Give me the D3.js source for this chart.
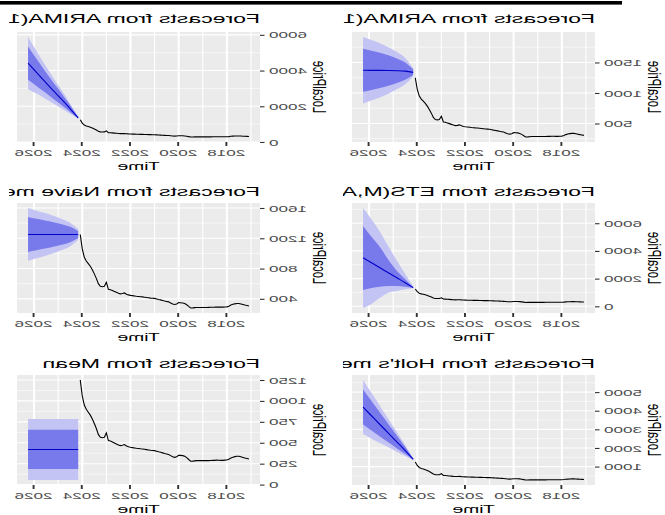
<!DOCTYPE html>
<html>
<head>
<meta charset="utf-8">
<script src="https://cdn.jsdelivr.net/npm/d3@7"></script>
<style>
  html, body { margin: 0; padding: 0; background: #fff; }
  svg { display: block; font-family: "Liberation Sans", Arial, Helvetica, sans-serif; }
</style>
</head>
<body>
<svg id="chart" width="665" height="515"></svg>
<script>
// Monthly local price series, Feb 2017 – Feb 2024
const seriesStart = 2017 + 1 / 12;
const localPrice = [
  306, 312, 318, 325, 332, 338, 338, 334, 328, 318, 302,
  294, 292, 290, 290, 291, 292, 290, 289, 288, 287, 286, 286,
  286, 286, 286, 286, 284, 281, 279, 300, 322, 338, 346, 349,
  350, 333, 326, 332, 346, 360, 366, 372, 379, 386, 392, 399,
  406, 408, 410, 414, 418, 422, 426, 428, 431, 434, 438, 442,
  446, 452, 462, 478, 470, 466, 474, 486, 498, 510, 520, 526,
  618, 565, 560, 565, 600, 670, 730, 785, 830, 865, 900, 950,
  1060, 1250
];

// Forecast horizon sample times
const forecastTimes = [2024.17, 2024.5, 2024.85, 2025.2, 2025.55, 2025.9, 2026.25];

// ARIMA without drift
const arimaMean = [1338, 1358, 1365, 1368, 1370, 1371, 1372];
const arimaLo80 = [1293, 1218, 1165, 1118, 1080, 1049, 1020];
const arimaHi80 = [1383, 1498, 1565, 1618, 1660, 1693, 1724];
const arimaLo95 = [1270, 1143, 1060, 988, 925, 876, 827];
const arimaHi95 = [1406, 1573, 1670, 1748, 1815, 1866, 1917];

// ARIMA with drift
const driftMean = [1356, 1860, 2380, 2870, 3380, 3900, 4420];
const driftLo80 = [1326, 1680, 2060, 2410, 2780, 3140, 3490];
const driftHi80 = [1386, 2040, 2700, 3330, 3980, 4660, 5350];
const driftLo95 = [1311, 1580, 1880, 2150, 2440, 2710, 2960];
const driftHi95 = [1401, 2140, 2880, 3590, 4320, 5090, 5880];

// ETS(M,A,N)
const etsMean = [1347, 1706, 2065, 2424, 2783, 3143, 3502];
const etsLo80 = [1320, 1420, 1470, 1470, 1420, 1320, 1180];
const etsHi80 = [1390, 1960, 2570, 3355, 4285, 5020, 5800];
const etsLo95 = [1300, 1225, 1100, 980, 612, 171, -122];
const etsHi95 = [1420, 2330, 3300, 4330, 5390, 6290, 7100];

// Naive method
const naiveMean = [1250, 1250, 1250, 1250, 1250, 1250, 1250];
const naiveLo80 = [1205, 1149, 1115, 1087, 1064, 1043, 1020];
const naiveHi80 = [1295, 1351, 1385, 1413, 1436, 1457, 1480];
const naiveLo95 = [1181, 1096, 1044, 1002, 967, 935, 900];
const naiveHi95 = [1319, 1404, 1456, 1498, 1533, 1565, 1600];

// Holt's method
const holtMean = [1391, 1860, 2330, 2800, 3260, 3730, 4200];
const holtLo80 = [1361, 1670, 1990, 2310, 2620, 2940, 3265];
const holtHi80 = [1421, 2050, 2670, 3290, 3900, 4520, 5135];
const holtLo95 = [1346, 1570, 1800, 2040, 2260, 2500, 2750];
const holtHi95 = [1436, 2150, 2860, 3560, 4260, 4960, 5650];

// Mean method
const meanMean = [420, 420, 420, 420, 420, 420, 420];
const meanLo80 = [185, 185, 185, 185, 185, 185, 185];
const meanHi80 = [655, 655, 655, 655, 655, 655, 655];
const meanLo95 = [55, 55, 55, 55, 55, 55, 55];
const meanHi95 = [785, 785, 785, 785, 785, 785, 785];

// Titles and tick labels
const panelTitles = [
  "Forecasts from ARIMA(1,1,0)",
  "Forecasts from ARIMA(1,1,0) with drift",
  "Forecasts from ETS(M,A,N)",
  "Forecasts from Naive method",
  "Forecasts from Holt's method",
  "Forecasts from Mean"
];
const xTicks = [2018, 2020, 2022, 2024, 2026];
const arimaTicks = [500, 1000, 1500];
const driftTicks = [0, 2000, 4000, 6000];
const etsTicks = [0, 2000, 4000, 6000];
const naiveTicks = [400, 800, 1200, 1600];
const holtTicks = [1000, 2000, 3000, 4000, 5000];
const meanTicks = [0, 250, 500, 750, 1000, 1250];
const xLabel = "Time";
const yLabel = "LocalPrice";

// ---- layout ----
const W = 665, H = 515;
const TX = 1.8;                 // horizontal stretch of lettering
const TY_TITLE = 1.55;          // stretch across the rotated axis title
const colX = [70, 405];         // panel left edges
const colClip = [[0, 322], [325, 656]];
const rowY = [32, 203, 375];    // panel top edges
const titleBase = [22.7, 196, 368];
const PW = 243, PH = 110;
const FONT = '"Liberation Sans", Arial, Helvetica, sans-serif';

const bandColors = { hi95: "#c3c4f4", hi80: "#7879eb" };

const panels = [
  { title: panelTitles[0], col: 0, row: 0, yTicks: arimaTicks, mean: arimaMean, lo80: arimaLo80, hi80: arimaHi80, lo95: arimaLo95, hi95: arimaHi95 },
  { title: panelTitles[1], col: 1, row: 0, yTicks: driftTicks, mean: driftMean, lo80: driftLo80, hi80: driftHi80, lo95: driftLo95, hi95: driftHi95 },
  { title: panelTitles[2], col: 0, row: 1, yTicks: etsTicks, mean: etsMean, lo80: etsLo80, hi80: etsHi80, lo95: etsLo95, hi95: etsHi95 },
  { title: panelTitles[3], col: 1, row: 1, yTicks: naiveTicks, mean: naiveMean, lo80: naiveLo80, hi80: naiveHi80, lo95: naiveLo95, hi95: naiveHi95 },
  { title: panelTitles[4], col: 0, row: 2, yTicks: holtTicks, mean: holtMean, lo80: holtLo80, hi80: holtHi80, lo95: holtLo95, hi95: holtHi95 },
  { title: panelTitles[5], col: 1, row: 2, yTicks: meanTicks, mean: meanMean, lo80: meanLo80, hi80: meanHi80, lo95: meanLo95, hi95: meanHi95 }
];

const history = localPrice.map((v, i) => ({ t: seriesStart + i / 12, v }));

const svg = d3.select("#chart");
const defs = svg.append("defs");
const root = svg.append("g").attr("transform", `translate(${W},0) scale(-1,1)`);

// thin black rule along the top
root.append("rect").attr("x", 43).attr("y", 1).attr("width", W - 43).attr("height", 3.6).attr("fill", "#000");

colClip.forEach((c, i) => {
  defs.append("clipPath").attr("id", "colclip" + i)
    .attr("clipPathUnits", "userSpaceOnUse")
    .append("rect").attr("x", c[0]).attr("y", 0).attr("width", c[1] - c[0]).attr("height", H);
});

function expand(ext) {
  const pad = (ext[1] - ext[0]) * 0.05;
  return [ext[0] - pad, ext[1] + pad];
}

function minorBreaks(major, dom) {
  const step = major[1] - major[0];
  const out = [];
  const ext = [major[0] - step, ...major, major[major.length - 1] + step];
  for (let i = 0; i < ext.length - 1; i++) out.push((ext[i] + ext[i + 1]) / 2);
  return out.filter(v => v >= dom[0] && v <= dom[1]);
}

panels.forEach((p, idx) => {
  const x0 = colX[p.col], y0 = rowY[p.row];
  const fc = forecastTimes.map((t, i) => ({
    t, mean: p.mean[i], lo80: p.lo80[i], hi80: p.hi80[i], lo95: p.lo95[i], hi95: p.hi95[i]
  }));

  const xDom = expand([history[0].t, forecastTimes[forecastTimes.length - 1]]);
  const yAll = localPrice.concat(p.lo95, p.hi95, p.lo80, p.hi80, p.mean);
  const yDom = expand(d3.extent(yAll));

  const x = d3.scaleLinear().domain(xDom).range([x0, x0 + PW]);
  const y = d3.scaleLinear().domain(yDom).range([y0 + PH, y0]);

  const g = root.append("g").attr("clip-path", `url(#colclip${p.col})`);

  // panel background
  g.append("rect").attr("x", x0).attr("y", y0).attr("width", PW).attr("height", PH).attr("fill", "#ebebeb");

  const pid = "panelclip" + idx;
  defs.append("clipPath").attr("id", pid).attr("clipPathUnits", "userSpaceOnUse")
    .append("rect").attr("x", x0).attr("y", y0).attr("width", PW).attr("height", PH);
  const inner = g.append("g").attr("clip-path", `url(#${pid})`);

  // grid
  const xMinor = minorBreaks(xTicks, xDom);
  const yMinor = minorBreaks(p.yTicks, yDom);
  inner.selectAll(".gxm").data(xMinor).join("line")
    .attr("x1", d => x(d)).attr("x2", d => x(d)).attr("y1", y0).attr("y2", y0 + PH)
    .attr("stroke", "#fff").attr("stroke-width", 1.1);
  inner.selectAll(".gym").data(yMinor).join("line")
    .attr("x1", x0).attr("x2", x0 + PW).attr("y1", d => y(d)).attr("y2", d => y(d))
    .attr("stroke", "#fff").attr("stroke-width", 0.6);
  inner.selectAll(".gxM").data(xTicks).join("line")
    .attr("x1", d => x(d)).attr("x2", d => x(d)).attr("y1", y0).attr("y2", y0 + PH)
    .attr("stroke", "#fff").attr("stroke-width", 2.1);
  inner.selectAll(".gyM").data(p.yTicks).join("line")
    .attr("x1", x0).attr("x2", x0 + PW).attr("y1", d => y(d)).attr("y2", d => y(d))
    .attr("stroke", "#fff").attr("stroke-width", 1.1);

  // history
  inner.append("path").datum(history)
    .attr("d", d3.line().x(d => x(d.t)).y(d => y(d.v)))
    .attr("fill", "none").attr("stroke", "#000").attr("stroke-width", 1.1);

  // prediction intervals
  inner.append("path").datum(fc)
    .attr("d", d3.area().x(d => x(d.t)).y0(d => y(d.lo95)).y1(d => y(d.hi95)).curve(d3.curveMonotoneX))
    .attr("fill", bandColors.hi95);
  inner.append("path").datum(fc)
    .attr("d", d3.area().x(d => x(d.t)).y0(d => y(d.lo80)).y1(d => y(d.hi80)).curve(d3.curveMonotoneX))
    .attr("fill", bandColors.hi80);
  inner.append("path").datum(fc)
    .attr("d", d3.line().x(d => x(d.t)).y(d => y(d.mean)).curve(d3.curveMonotoneX))
    .attr("fill", "none").attr("stroke", "#0000c8").attr("stroke-width", 1.1);

  // x axis
  const gx = g.append("g").attr("transform", `translate(0,${y0 + PH})`)
    .call(d3.axisBottom(x).tickValues(xTicks).tickFormat(d3.format("d")).tickSize(4).tickPadding(2.8));
  gx.select(".domain").remove();
  gx.selectAll(".tick line").attr("stroke", "#333").attr("stroke-width", 1.9);
  gx.selectAll(".tick text").attr("fill", "#4d4d4d").attr("font-size", 9.5)
    .attr("font-family", FONT).attr("transform", `scale(${TX},1)`);

  // y axis
  const gy = g.append("g").attr("transform", `translate(${x0},0)`)
    .call(d3.axisLeft(y).tickValues(p.yTicks).tickFormat(d3.format("d")).tickSize(4.5).tickPadding(4));
  gy.select(".domain").remove();
  gy.selectAll(".tick line").attr("stroke", "#333").attr("stroke-width", 1.1);
  gy.selectAll(".tick text").attr("fill", "#4d4d4d").attr("font-size", 9.5)
    .attr("font-family", FONT).attr("x", -9 / TX).attr("transform", `scale(${TX},1)`);

  // titles
  g.append("text").text(p.title)
    .attr("transform", `translate(${x0},${titleBase[p.row]}) scale(${TX},1)`)
    .attr("font-size", 12.8).attr("fill", "#000").attr("font-family", FONT);
  g.append("text").text(xLabel)
    .attr("transform", `translate(${x0 + PW / 2},${y0 + PH + 28}) scale(${TX},1)`)
    .attr("text-anchor", "middle").attr("font-size", 10.75).attr("fill", "#000").attr("font-family", FONT);
  g.append("text").text(yLabel)
    .attr("transform", `translate(${x0 - 53},${y0 + PH / 2}) scale(${TY_TITLE},1) rotate(-90)`)
    .attr("text-anchor", "middle").attr("font-size", 11.3).attr("fill", "#000").attr("font-family", FONT);
});
</script>
</body>
</html>
